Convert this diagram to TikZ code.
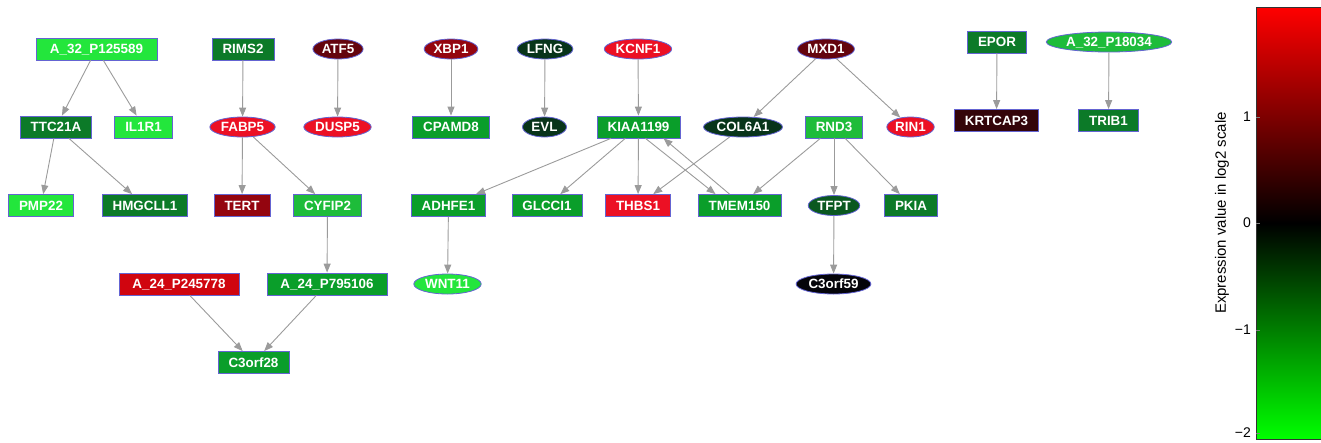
\documentclass[tikz,border=0pt]{standalone}
\usepackage{fontspec}
\setmainfont{Liberation Sans}
\usetikzlibrary{arrows.meta,shapes.geometric}

% expression colours (green = down, red = up)
\definecolor{gbright}{RGB}{35,230,60}
\definecolor{gmid}{RGB}{30,188,58}
\definecolor{gnorm}{RGB}{10,158,42}
\definecolor{gdark}{RGB}{12,122,40}
\definecolor{gdeep}{RGB}{10,88,32}
\definecolor{gnight}{RGB}{8,52,26}
\definecolor{nblack}{RGB}{4,4,10}
\definecolor{rnight}{RGB}{52,5,10}
\definecolor{rdeep}{RGB}{100,4,14}
\definecolor{rdark}{RGB}{148,5,15}
\definecolor{rmid}{RGB}{208,5,15}
\definecolor{rbright}{RGB}{236,16,36}
\definecolor{nodeborder}{RGB}{100,100,210}
\definecolor{linkgray}{RGB}{155,155,155}

\tikzset{
  gene/.style={draw=nodeborder, line width=0.8pt, text=white, text height=9.6pt, text depth=0pt,
    font=\fontsize{13.4}{15}\selectfont\bfseries},
  gbox/.style={gene, rectangle, minimum height=22pt, inner xsep=10.5pt, inner ysep=0pt},
  goval/.style={gene, ellipse, minimum height=20pt, minimum width=44pt, inner xsep=1.5pt, inner ysep=0pt},
  link/.style={draw=linkgray, line width=0.9pt, -{Triangle[length=9pt,width=7pt]}},
}

\begin{document}
\begin{tikzpicture}[x=1pt, y=-1pt]

  \useasboundingbox (0,0) rectangle (1321,442);

  % ================= gene nodes =================
  % row 1
  \node[gbox, fill=gbright, minimum width=121pt] (p125589) at (96.5,49) {A\_32\_P125589};
  \node[gbox, fill=gdark] (rims2) at (243,49) {RIMS2};
  \node[goval, fill=rdeep] (atf5) at (338,49) {ATF5};
  \node[goval, fill=rdark] (xbp1) at (451,49) {XBP1};
  \node[goval, fill=gnight] (lfng) at (545,49) {LFNG};
  \node[goval, fill=rbright] (kcnf1) at (638,49) {KCNF1};
  \node[goval, fill=rdeep] (mxd1) at (826,49) {MXD1};
  \node[gbox, fill=gdark] (epor) at (997,42) {EPOR};
  \node[goval, fill=gmid] (p18034) at (1109,42) {A\_32\_P18034};

  % row 2
  \node[gbox, fill=gdark] (ttc21a) at (56,127) {TTC21A};
  \node[gbox, fill=gbright] (il1r1) at (143.5,127) {IL1R1};
  \node[goval, fill=rbright] (fabp5) at (242.5,127) {FABP5};
  \node[goval, fill=rbright] (dusp5) at (337.5,127) {DUSP5};
  \node[gbox, fill=gnorm] (cpamd8) at (451,127) {CPAMD8};
  \node[goval, fill=gnight] (evl) at (544.5,127) {EVL};
  \node[gbox, fill=gnorm] (kiaa1199) at (638.5,127) {KIAA1199};
  \node[goval, fill=gnight] (col6a1) at (743,127) {COL6A1};
  \node[gbox, fill=gmid] (rnd3) at (834,127) {RND3};
  \node[goval, fill=rbright] (rin1) at (910.5,127) {RIN1};
  \node[gbox, fill=rnight] (krtcap3) at (996.5,120.5) {KRTCAP3};
  \node[gbox, fill=gdark] (trib1) at (1108.5,120.5) {TRIB1};

  % row 3
  \node[gbox, fill=gbright] (pmp22) at (41,205.5) {PMP22};
  \node[gbox, fill=gdark] (hmgcll1) at (145,205.5) {HMGCLL1};
  \node[gbox, fill=rdark] (tert) at (242,205.5) {TERT};
  \node[gbox, fill=gmid] (cyfip2) at (327.5,205.5) {CYFIP2};
  \node[gbox, fill=gnorm] (adhfe1) at (448.5,205.5) {ADHFE1};
  \node[gbox, fill=gnorm] (glcci1) at (547,205.5) {GLCCI1};
  \node[gbox, fill=rbright] (thbs1) at (638,205.5) {THBS1};
  \node[gbox, fill=gnorm] (tmem150) at (739.5,205.5) {TMEM150};
  \node[goval, fill=gdeep] (tfpt) at (834,205.5) {TFPT};
  \node[gbox, fill=gdark] (pkia) at (911,205.5) {PKIA};

  % row 4 and 5
  \node[gbox, fill=rmid, minimum width=120pt] (p245778) at (179,284) {A\_24\_P245778};
  \node[gbox, fill=gnorm, minimum width=120pt] (p795106) at (327,284) {A\_24\_P795106};
  \node[goval, fill=gbright] (wnt11) at (447.5,284) {WNT11};
  \node[goval, fill=nblack] (c3orf59) at (833.5,284) {C3orf59};
  \node[gbox, fill=gnorm] (c3orf28) at (253.5,362.5) {C3orf28};

  % ================= links =================
  \draw[link] (p125589) -- (ttc21a);
  \draw[link] (p125589) -- (il1r1);
  \draw[link] (ttc21a) -- (pmp22);
  \draw[link] (ttc21a) -- (hmgcll1);
  \draw[link] (rims2) -- (fabp5);
  \draw[link] (atf5) -- (dusp5);
  \draw[link] (fabp5) -- (tert);
  \draw[link] (fabp5) -- (cyfip2);
  \draw[link] (cyfip2) -- (p795106);
  \draw[link] (p245778) -- (c3orf28);
  \draw[link] (p795106) -- (c3orf28);
  \draw[link] (xbp1) -- (cpamd8);
  \draw[link] (lfng) -- (evl);
  \draw[link] (kcnf1) -- (kiaa1199);
  \draw[link] (kiaa1199) -- (adhfe1);
  \draw[link] (kiaa1199) -- (glcci1);
  \draw[link] (kiaa1199) -- (thbs1);
  \draw[link] ([xshift=7pt]kiaa1199.south) -- ([xshift=-24pt]tmem150.north);
  \draw[link] ([xshift=-10pt]tmem150.north) -- ([xshift=25pt]kiaa1199.south);
  \draw[link] (col6a1) -- (thbs1);
  \draw[link] (mxd1) -- (col6a1);
  \draw[link] (mxd1) -- (rin1);
  \draw[link] (rnd3) -- (tmem150);
  \draw[link] (rnd3) -- (tfpt);
  \draw[link] (rnd3) -- (pkia);
  \draw[link] (tfpt) -- (c3orf59);
  \draw[link] (adhfe1) -- (wnt11);
  \draw[link] (epor) -- (krtcap3);
  \draw[link] (p18034) -- (trib1);

  % ================= colour scale =================
  \shade[top color=red, bottom color=green, middle color=black] (1256,439) rectangle (1321,7);
  \draw[line width=0.6pt, black!80] (1321,7) -- (1256,7) -- (1256,439) -- (1321,439);
  \foreach \v/\y in {1/117, 0/223, −1/330, −2/433}{
    \draw[line width=0.5pt, gray] (1256,\y) -- (1260,\y);
    \node[left, inner sep=0pt, font=\fontsize{14}{16}\selectfont] at (1251,\y) {\v};
  }
  \node[rotate=90, font=\fontsize{15}{17}\selectfont] (scalelabel) at (1222,213) {Expression value in log2 scale};

\end{tikzpicture}
\end{document}
